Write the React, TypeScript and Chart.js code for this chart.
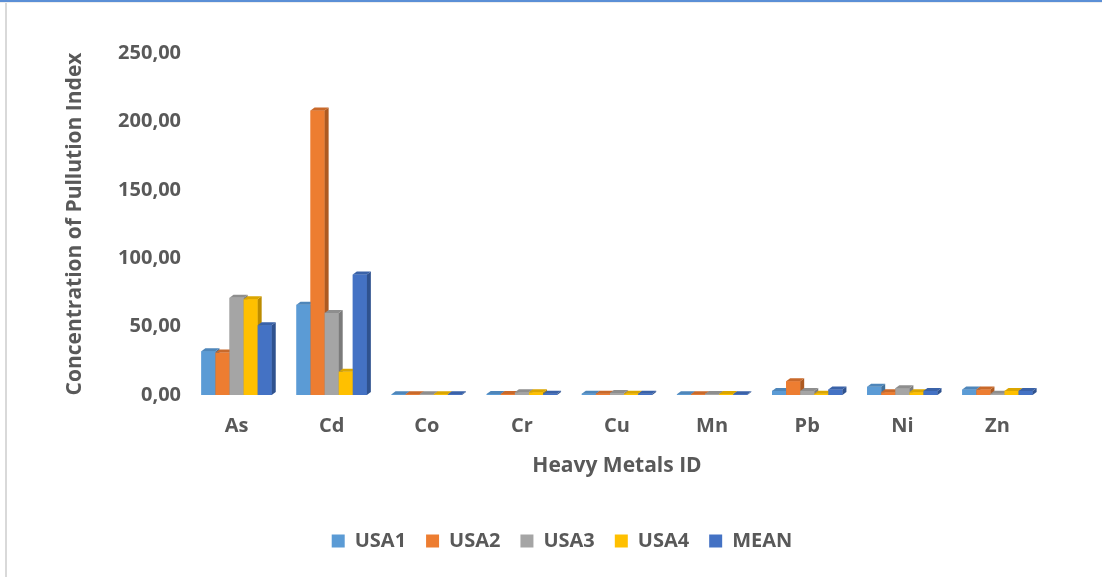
import React, { useEffect, useRef } from "react";
import { Chart, registerables } from "chart.js";

Chart.register(...registerables);

const categories = ["As", "Cd", "Co", "Cr", "Cu", "Mn", "Pb", "Ni", "Zn"];
const seriesNames = ["USA1", "USA2", "USA3", "USA4", "MEAN"];
const usa1 = [32, 66, 0.5, 0.8, 1, 0.5, 3, 6, 4];
const usa2 = [31, 208, 0.5, 0.8, 1, 0.5, 10, 2, 4];
const usa3 = [71, 60, 0.5, 2, 1.5, 0.8, 3, 5, 1];
const usa4 = [70, 17, 0.5, 2, 1, 0.8, 1, 2, 3];
const mean = [51, 88, 0.5, 1, 1, 0.5, 4, 3, 3];
const seriesValues = [usa1, usa2, usa3, usa4, mean];
const yTicks = [0, 50, 100, 150, 200, 250];

const frontColors = ["#5B9BD5", "#ED7D31", "#A5A5A5", "#FFC000", "#4472C4"];
const sideColors = ["#41719C", "#AE5A21", "#7B7B7B", "#BC8C00", "#2F528F"];
const topColors = ["#4E86BA", "#C9692A", "#8E8E8E", "#DBA600", "#3A62A8"];

const DX = 4;
const DY = 3;

const depthPlugin = {
  id: "depth3d",
  afterDatasetsDraw(chart: any) {
    const ctx = chart.ctx;
    ctx.save();
    chart.data.datasets.forEach((_ds: any, i: number) => {
      const meta = chart.getDatasetMeta(i);
      if (meta.hidden) return;
      meta.data.forEach((el: any) => {
        const { x, y, base, width } = el.getProps(["x", "y", "base", "width"], true);
        const l = x - width / 2;
        const r = x + width / 2;
        const t = Math.min(y, base - 0.8);
        ctx.fillStyle = frontColors[i];
        ctx.fillRect(l, t, r - l, base - t);
        ctx.fillStyle = sideColors[i];
        ctx.beginPath();
        ctx.moveTo(r, t);
        ctx.lineTo(r + DX, t - DY);
        ctx.lineTo(r + DX, base - DY);
        ctx.lineTo(r, base);
        ctx.closePath();
        ctx.fill();
        ctx.fillStyle = topColors[i];
        ctx.beginPath();
        ctx.moveTo(l, t);
        ctx.lineTo(l + DX, t - DY);
        ctx.lineTo(r + DX, t - DY);
        ctx.lineTo(r, t);
        ctx.closePath();
        ctx.fill();
      });
    });
    ctx.restore();
  },
};

const FONT = "'Open Sans', 'DejaVu Sans', sans-serif";
const TEXT = "#595959";

export default function App() {
  const ref = useRef<HTMLCanvasElement | null>(null);

  useEffect(() => {
    document.body.style.margin = "0";
    const canvas = ref.current;
    if (!canvas) return;
    const chart = new Chart(canvas, {
      type: "bar",
      data: {
        labels: categories,
        datasets: seriesNames.map((name, i) => ({
          label: name,
          data: seriesValues[i],
          backgroundColor: frontColors[i],
          borderWidth: 0,
          categoryPercentage: 0.74,
          barPercentage: 1,
        })),
      },
      options: {
        responsive: false,
        animation: false,
        layout: { padding: { left: 79, right: 57, top: 53, bottom: 16 } },
        plugins: {
          tooltip: { enabled: false },
          legend: {
            position: "bottom",
            labels: {
              boxWidth: 13,
              boxHeight: 13,
              padding: 20,
              color: TEXT,
              font: { family: FONT, size: 20, weight: "bold" },
            },
          },
        },
        scales: {
          x: {
            grid: { display: false, drawTicks: false },
            border: { display: false },
            ticks: {
              color: TEXT,
              padding: 19,
              font: { family: FONT, size: 20, weight: "bold" },
            },
            title: {
              display: true,
              text: "Heavy Metals ID",
              color: TEXT,
              font: { family: FONT, size: 21, weight: "bold" },
              padding: { top: 0, bottom: 32 },
            },
            afterFit(scale: any) {
              scale.height = 116;
            },
          },
          y: {
            min: 0,
            max: 250,
            grid: { display: false, drawTicks: false },
            border: { display: false },
            afterBuildTicks(scale: any) {
              scale.ticks = yTicks.map((v) => ({ value: v }));
            },
            ticks: {
              color: TEXT,
              padding: 8,
              font: { family: FONT, size: 20, weight: "bold" },
              callback: (v: any) => Number(v).toFixed(2).replace(".", ","),
            },
            title: {
              display: true,
              text: "Concentration of Pullution Index",
              color: TEXT,
              font: { family: FONT, size: 21, weight: "bold" },
              padding: { top: -17, bottom: 0 },
            },
            afterFit(scale: any) {
              scale.width = 110;
            },
          },
        },
      },
      plugins: [depthPlugin],
    } as any);
    return () => chart.destroy();
  }, []);

  return (
    <div style={{ position: "relative", width: 1102, height: 577, background: "#fff" }}>
      <canvas ref={ref} width={1102} height={577} style={{ display: "block" }} />
      <div style={{ position: "absolute", left: 0, top: 0, width: 1102, height: 2, background: "#5B8FD6" }} />
      <div style={{ position: "absolute", left: 0, top: 2, width: 1102, height: 1, background: "#EDEDED" }} />
      <div style={{ position: "absolute", left: 5, top: 3, width: 2, height: 574, background: "#D9D9D9" }} />
    </div>
  );
}
